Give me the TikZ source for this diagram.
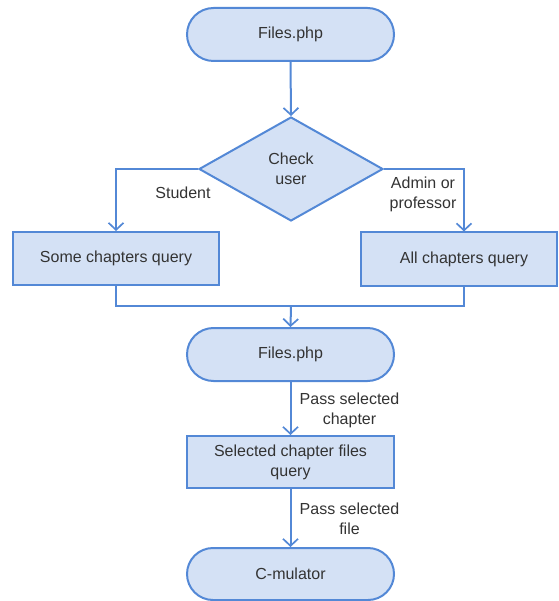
\documentclass[tikz,border=0pt]{standalone}
\usepackage{fontspec}
\setmainfont{Liberation Sans}
\usetikzlibrary{arrows.meta,shapes.geometric,shapes.misc,calc}
\definecolor{boxfill}{HTML}{D4E1F5}
\definecolor{boxline}{HTML}{5388D6}
\definecolor{txt}{HTML}{333333}
\begin{document}
\begin{tikzpicture}[x=1pt,y=-1pt,
  every node/.style={font=\fontsize{16}{20}\selectfont, text=txt},
  shapebase/.style={draw=boxline, fill=boxfill, line width=2pt, align=center, inner sep=0pt},
  terminal/.style={shapebase, rounded rectangle, minimum width=207pt, minimum height=53pt},
  process/.style={shapebase, rectangle, minimum height=53pt},
  decision/.style={shapebase, diamond, minimum width=184pt, minimum height=104pt},
  flow/.style={draw=boxline, line width=2pt, -{Straight Barb[length=7pt,width=15pt,line width=1.7pt]}},
  link/.style={draw=boxline, line width=2pt},
  lbl/.style={align=center, inner sep=0pt}
]
\useasboundingbox (0,0) rectangle (558,601);

% shapes
\node[terminal] (f1) at (290.5,34.5) {Files.php};
\node[decision] (chk) at (291,169) {Check\\user};
\node[process, minimum width=206pt] (some) at (116,258.5) {Some chapters query};
\node[process, minimum width=196pt] (all) at (459,259) {\hspace*{10pt}All chapters query};
\node[terminal] (f2) at (290.5,354.5) {Files.php};
\node[process, minimum width=207pt, minimum height=52pt] (sel) at (290.5,462) {Selected chapter files\\query};
\node[terminal, minimum height=52pt] (cm) at (290.5,574) {C-mulator};

% helper coordinates
\coordinate (allx) at (464,0);
\coordinate (mj) at (291,306);

% connectors
\draw[flow] (f1.south) -- (chk.north);
\draw[flow] (chk.west) -| (some.north);
\draw[flow] (chk.east) -| (allx |- all.north);
\draw[link] (some.south) |- (mj);
\draw[link] (allx |- all.south) |- (mj);
\draw[flow] (mj) -- (f2.north);
\draw[flow] (f2.south) -- (sel.north);
\draw[flow] (sel.south) -- (cm.north);

% branch and step labels
\node[lbl] (lstud) at (183,193) {Student};
\node[lbl] (ladm) at (423,194) {Admin or\\professor};
\node[lbl] (lch) at (349.5,410.5) {Pass selected\\chapter};
\node[lbl] (lfile) at (349.5,519) {Pass selected\\file};
\end{tikzpicture}
\end{document}
